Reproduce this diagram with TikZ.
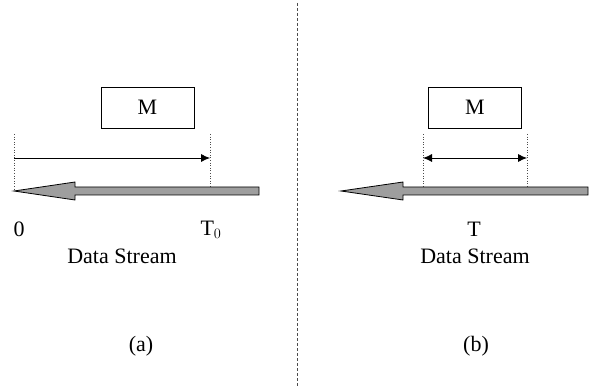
\documentclass[tikz,border=0pt]{standalone}
\usepackage{fontspec}
\setmainfont{Liberation Serif}
\usetikzlibrary{arrows.meta,positioning}

\begin{document}
\begin{tikzpicture}[
        x=1pt, y=-1pt,
        font=\fontsize{22}{26}\selectfont,
        memory/.style={
            rectangle,
            draw=black,
            fill=white,
            line width=0.8pt,
            minimum width=93pt,
            minimum height=41pt,
            inner sep=0pt
        },
        label/.style={inner sep=0pt},
        marker/.style={draw=black!70, dotted, line width=0.6pt},
        span/.style={draw, line width=0.8pt},
        tip/.style={-{Latex[length=9pt,width=8pt]}},
        stream/.style={draw=black, fill=black!38, line width=0.8pt, line join=miter}
    ]
        \useasboundingbox (0,0) rectangle (591,387);

        % Divider between the two panels
        \draw[black!70, line width=0.9pt, dash pattern=on 3pt off 2pt] (297.5,3) -- (297.5,387);

        % Panel (a)
        \node[memory] (ma) at (147.5,107.5) {M};
        \coordinate (a0) at (14,134);
        \coordinate (a1) at (210,134);
        \coordinate (a0b) at (14,190);
        \coordinate (a1b) at (210,187);
        \draw[marker] (a0) -- (a0b);
        \draw[marker] (a1) -- (a1b);
        \coordinate (sa) at (14,158);
        \coordinate (ea) at (210,158);
        \draw[span, tip] (sa) -- (ea);
        \draw[stream] (14,191) -- (75,182) -- (75,187) -- (259,187) -- (259,195)
            -- (75,195) -- (75,200) -- cycle;
        \node[label] (zero) at (19,229.5) {0};
        \node[label] (tzero) at (211,229.5) {T$_0$};
        \node[label] (dsa) at (122,256.5) {Data Stream};
        \node[label] (capa) at (141,346) {(a)};

        % Panel (b)
        \node[memory] (mb) at (475,107.5) {M};
        \coordinate (b0) at (423,134);
        \coordinate (b1) at (527,134);
        \coordinate (b0b) at (423,187);
        \coordinate (b1b) at (527,187);
        \draw[marker] (b0) -- (b0b);
        \draw[marker] (b1) -- (b1b);
        \coordinate (sb) at (423,158);
        \coordinate (eb) at (527,158);
        \draw[span, {Latex[length=9pt,width=8pt]}-{Latex[length=9pt,width=8pt]}] (sb) -- (eb);
        \draw[stream] (341,191) -- (403,182) -- (403,187) -- (588,187) -- (588,195)
            -- (403,195) -- (403,200) -- cycle;
        \node[label] (tb) at (474,229.5) {T};
        \node[label] (dsb) at (475,256.5) {Data Stream};
        \node[label] (capb) at (476,346) {(b)};

    \end{tikzpicture}
\end{document}
